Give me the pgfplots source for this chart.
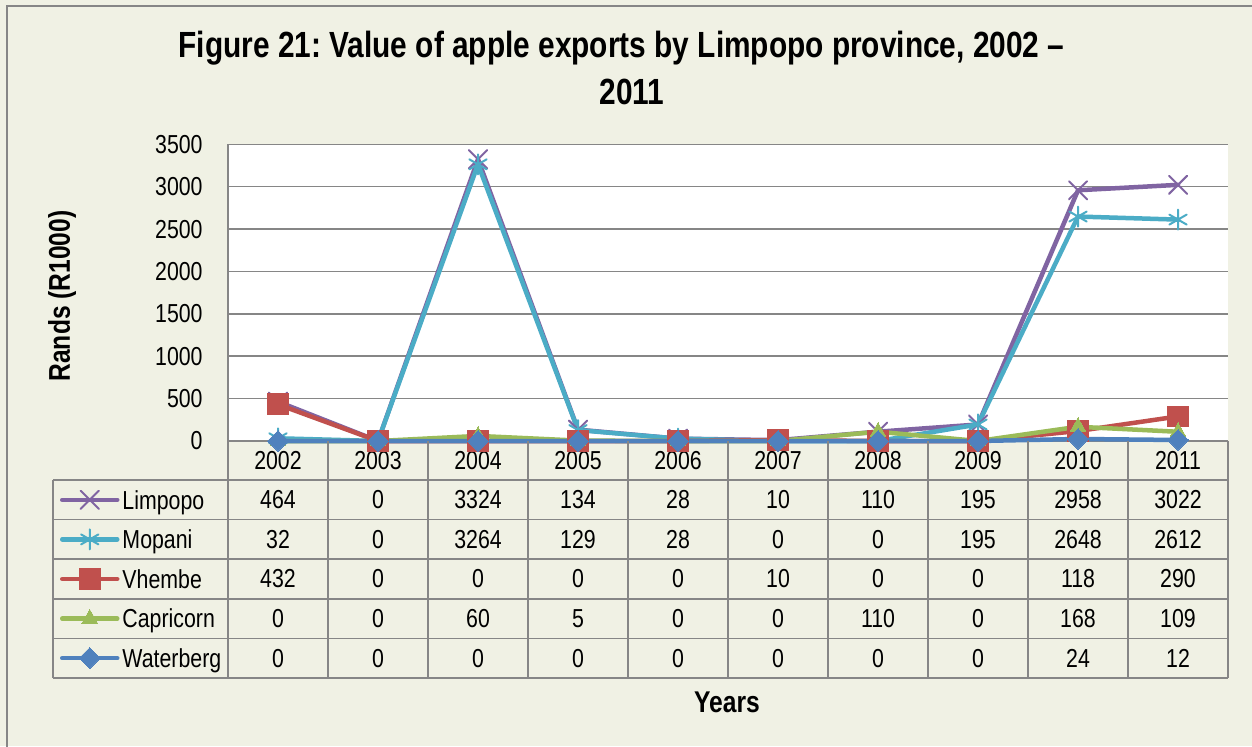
\documentclass[border=0pt]{standalone}
\usepackage{fontspec}
\setmainfont{Liberation Sans}[FakeStretch=0.82]
\usepackage{pgfplots}
\pgfplotsset{compat=1.18}
\definecolor{bgc}{RGB}{240,241,228}
\definecolor{gridc}{RGB}{134,134,134}
\definecolor{limp}{RGB}{128,100,162}
\definecolor{mop}{RGB}{75,172,198}
\definecolor{vhe}{RGB}{192,80,77}
\definecolor{capr}{RGB}{155,187,89}
\definecolor{wat}{RGB}{79,129,189}
\newcommand{\tabfont}{\fontsize{13}{15}\selectfont}
\frenchspacing

\begin{document}
\begin{tikzpicture}
\useasboundingbox (0,0) rectangle (626pt,-373pt);
\fill[bgc] (0,0) rectangle (626pt,-373pt);
\begin{scope}
\clip (0,0) rectangle (626pt,-373pt);
\draw[gridc, line width=1pt] (3.5pt,-3pt) rectangle (640pt,-390pt);
\end{scope}

% title
\node[font=\bfseries\fontsize{18.2}{22}\selectfont] at (310.75pt,-24pt) {Figure 21: Value of apple exports by Limpopo province, 2002 –};
\node[font=\bfseries\fontsize{18.2}{22}\selectfont] at (316pt,-46pt) {2011};
\node[font=\bfseries\fontsize{15}{18}\selectfont, rotate=90] at (31pt,-148pt) {Rands (R1000)};
\node[font=\bfseries\fontsize{15}{18}\selectfont] at (363.5pt,-351pt) {Years};

\begin{axis}[
  at={(114pt,-220.5pt)}, anchor=south west,
  scale only axis, width=500pt, height=148.35pt,
  xmin=2001.5, xmax=2011.5, ymin=0, ymax=3500,
  xtick={2002,2003,2004,2005,2006,2007,2008,2009,2010,2011},
  xticklabels={2002,2003,2004,2005,2006,2007,2008,2009,2010,2011},
  ytick={0,500,1000,1500,2000,2500,3000,3500},
  axis x line*=bottom, axis y line*=left,
  axis line style={gridc, line width=0.75pt},
  ymajorgrids, grid style={gridc, line width=0.75pt},
  major tick length=0pt,
  axis background/.style={fill=white},
  tick label style={font=\tabfont},
  xticklabel style={anchor=center, inner sep=0pt, yshift=-9.75pt},
  yticklabel style={anchor=east, inner sep=0pt, xshift=-12.5pt,
    /pgf/number format/assume math mode=true, /pgf/number format/1000 sep={}},
  clip=false,
  legend style={at={(-0.168,-0.1314)}, anchor=north west, draw=none, fill=none,
    inner sep=0pt, outer sep=0pt, row sep=0pt, font=\tabfont,
    nodes={inner xsep=1.5pt, inner ysep=0pt, text height=9.3pt, text depth=0pt, minimum height=19.8pt}},
  legend cell align=left,
  legend image code/.code={\draw[mark repeat=2,mark phase=2] plot coordinates {(0pt,0pt) (13.75pt,0pt) (27.5pt,0pt)};},
  every axis plot/.append style={line width=2.25pt, line join=round, line cap=round},
]
\addplot[limp, mark=x, mark size=6.4pt, mark options={line width=1pt}] coordinates {
 (2002,464) (2003,0) (2004,3324) (2005,134) (2006,28) (2007,10) (2008,110) (2009,195) (2010,2958) (2011,3022)};
\addlegendentry{Limpopo}
\addplot[mop, mark=asterisk, mark size=5pt, mark options={line width=1pt}] coordinates {
 (2002,32) (2003,0) (2004,3264) (2005,129) (2006,28) (2007,0) (2008,0) (2009,195) (2010,2648) (2011,2612)};
\addlegendentry{Mopani}
\addplot[vhe, mark=square*, mark size=5.2pt, mark options={line width=0pt}] coordinates {
 (2002,432) (2003,0) (2004,0) (2005,0) (2006,0) (2007,10) (2008,0) (2009,0) (2010,118) (2011,290)};
\addlegendentry{Vhembe}
\addplot[capr, mark=triangle*, mark size=4.5pt, mark options={line width=0pt}] coordinates {
 (2002,0) (2003,0) (2004,60) (2005,5) (2006,0) (2007,0) (2008,110) (2009,0) (2010,168) (2011,109)};
\addlegendentry{Capricorn}
\addplot[wat, mark=square*, mark size=3.7pt, mark options={line width=0pt, rotate=45}] coordinates {
 (2002,0) (2003,0) (2004,0) (2005,0) (2006,0) (2007,0) (2008,0) (2009,0) (2010,24) (2011,12)};
\addlegendentry{Waterberg}
\end{axis}

% data table grid
\begin{scope}[gridc, line width=0.75pt]
\foreach \y in {240,259.8,279.6,299.4,319.2,339}
  \draw (26.5pt,{-\y*1pt}) -- (614pt,{-\y*1pt});
\draw (26.5pt,-240pt) -- (26.5pt,-339pt);
\foreach \x in {114,164,...,614}
  \draw ({\x*1pt},-220.5pt) -- ({\x*1pt},-339pt);
\end{scope}

% data table values
\foreach \vals [count=\r from 0] in {
  {464,0,3324,134,28,10,110,195,2958,3022},
  {32,0,3264,129,28,0,0,195,2648,2612},
  {432,0,0,0,0,10,0,0,118,290},
  {0,0,60,5,0,0,110,0,168,109},
  {0,0,0,0,0,0,0,0,24,12}} {
  \foreach \v [count=\c from 0] in \vals
    \node[font=\tabfont, inner sep=0pt] at ({139pt+\c*50pt},{-249.9pt-\r*19.8pt}) {\v};
}
\end{tikzpicture}
\end{document}
